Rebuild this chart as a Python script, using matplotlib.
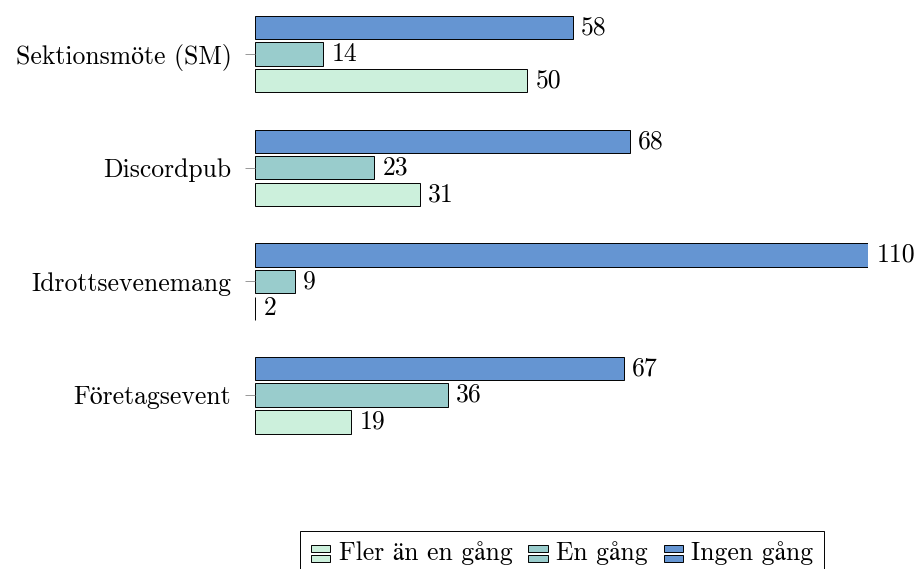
import matplotlib.pyplot as plt
from matplotlib.legend_handler import HandlerBase
from matplotlib.patches import Rectangle

plt.rcParams['font.family'] = ['cmr10', 'STIXGeneral', 'DejaVu Serif']
plt.rcParams['axes.formatter.use_mathtext'] = True

categories = ['Sektionsmöte (SM)', 'Discordpub', 'Idrottsevenemang', 'Företagsevent']
ingen = [58, 68, 110, 67]
en = [14, 23, 9, 36]
fler = [50, 31, 2, 19]

series = [('Ingen gång', ingen, '#6595D2', -0.233),
          ('En gång', en, '#99CCCC', 0.0),
          ('Fler än en gång', fler, '#CCF0DC', 0.236)]

XMIN, XMAX = 2, 110


class TwoBars(HandlerBase):
    # pgfplots-style xbar legend icon: two small stacked bars
    def create_artists(self, legend, orig, xd, yd, w, h, fontsize, trans):
        fc = orig.get_facecolor()
        bw, bh = 14, 5
        x0 = xd + (w - bw) / 2
        yc = yd + h / 2 - 1.5
        r1 = Rectangle((x0, yc + 1), bw, bh, facecolor=fc, edgecolor='black', lw=0.7, transform=trans)
        r2 = Rectangle((x0, yc - bh - 1), bw, bh, facecolor=fc, edgecolor='black', lw=0.7, transform=trans)
        return [r1, r2]


fig = plt.figure(figsize=(9.18, 5.69), dpi=100)
ax = fig.add_axes([255 / 918, 1 - 520 / 569, 613 / 918, 520 / 569])

pos = list(range(len(categories)))
handles = {}
for name, vals, col, off in series:
    bars = ax.barh([p + off for p in pos], [v - XMIN for v in vals], height=0.205, left=XMIN,
                   color=col, edgecolor='black', linewidth=0.7, label=name)
    ax.bar_label(bars, labels=[str(v) for v in vals], padding=6, fontsize=18.5)
    handles[name] = bars.patches[0]

ax.set_xlim(XMIN, XMAX)
ax.set_ylim((520 - 54) / 113.7, -54 / 113.7)
ax.set_yticks(pos)
ax.set_yticklabels(categories, fontsize=18.5)
ax.set_xticks([])
for s in ax.spines.values():
    s.set_visible(False)
ax.tick_params(axis='y', length=7, width=0.6, color='#888888', pad=10)

order = ['Fler än en gång', 'En gång', 'Ingen gång']
leg = fig.legend([handles[n] for n in order], order, loc='upper center',
                 bbox_to_anchor=(562 / 918, 1 - 531 / 569), ncol=3,
                 fontsize=18.5, frameon=True, fancybox=False, edgecolor='black',
                 framealpha=1, borderaxespad=0, handlelength=0.8, handletextpad=0.3,
                 columnspacing=0.6, borderpad=0.4,
                 handler_map={Rectangle: TwoBars()})
leg.get_frame().set_linewidth(0.7)

fig.savefig('out.png', dpi=100)
